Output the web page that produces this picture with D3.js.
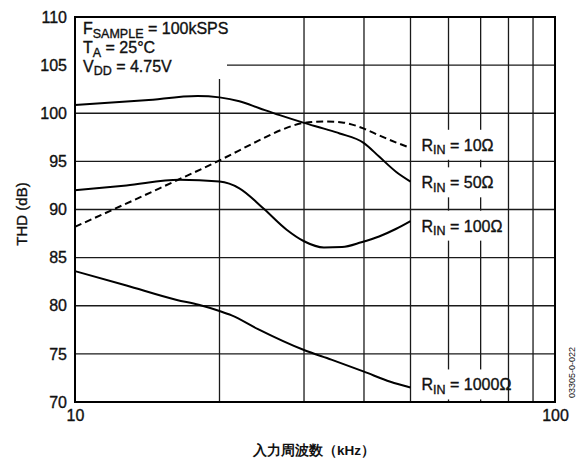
<!DOCTYPE html>
<html>
<head>
<meta charset="utf-8">
<script src="https://cdn.jsdelivr.net/npm/d3@7"></script>
<style>
  html, body { margin: 0; padding: 0; background: #fff; }
  svg { display: block; }
  text { font-family: "Liberation Sans", Arial, Helvetica, sans-serif; fill: #111; }
  .heavy { stroke: #111; stroke-width: 0.35px; }
</style>
</head>
<body>
<svg id="chart" width="578" height="458"></svg>
<script>
// Input frequency (kHz) and THD (dB) for each source resistance
const freqR10   = [10, 15, 20, 24, 27, 30, 33, 36, 40, 43, 47, 50];
const thdR10    = [88.2, 92.2, 95.1, 97.1, 98.3, 99.0, 99.15, 99.05, 98.4, 97.7, 96.9, 96.4];

const freqR50   = [10, 14, 18, 20, 22, 24.3, 26.7, 30, 33, 35.6, 40, 43, 46.7, 50];
const thdR50    = [100.85, 101.35, 101.8, 101.65, 101.25, 100.5, 99.8, 99.0, 98.4, 97.9, 96.9, 95.5, 93.9, 92.9];

const freqR100  = [10, 12.8, 16.5, 20, 22, 24.7, 27.6, 30, 33, 36, 39.5, 43, 46.7, 50];
const thdR100   = [92.0, 92.5, 93.1, 92.9, 92.2, 90.1, 87.9, 86.7, 86.05, 86.1, 86.6, 87.2, 88.0, 88.8];

const freqR1000 = [10, 12.8, 16.3, 18.1, 20, 21.2, 24, 30, 34.2, 40, 45.4, 50];
const thdR1000  = [83.6, 82.1, 80.6, 80.1, 79.45, 79.0, 77.6, 75.4, 74.4, 73.15, 72.1, 71.5];

// Curve labels: resistance text and the THD level of each label's baseline
const seriesNames  = ["10Ω", "50Ω", "100Ω", "1000Ω"];
const labelLevels  = [96.1, 92.2, 87.7, 71.2];

// Axis ticks
const yTicks = [70, 75, 80, 85, 90, 95, 100, 105, 110];
const xTickLabels = [10, 100];
const xGrid = [20, 30, 40, 50, 60, 70, 80, 90];

const svg = d3.select("#chart");
const plotL = 75, plotR = 555, plotT = 17, plotB = 402;
const mainSize = 16, subSize = 12.5, subShift = 3.5;

const x = d3.scaleLog().domain([10, 100]).range([plotL, plotR]);
const y = d3.scaleLinear().domain([70, 110]).range([plotB, plotT]);

// vertical grid
svg.append("g").attr("stroke", "#1a1a1a").attr("stroke-width", 1.3)
  .selectAll("line").data(xGrid).join("line")
  .attr("x1", d => x(d)).attr("x2", d => x(d))
  .attr("y1", plotT).attr("y2", plotB);

// white backing behind the curve labels (interrupts vertical grid)
svg.append("g").selectAll("rect").data(labelLevels).join("rect")
  .attr("x", 414).attr("width", 92)
  .attr("y", d => y(d) - 21).attr("height", 30)
  .attr("fill", "#fff");

// horizontal grid
svg.append("g").attr("stroke", "#1a1a1a").attr("stroke-width", 1.3)
  .selectAll("line").data(yTicks.filter(d => d > 70 && d < 110)).join("line")
  .attr("x1", plotL).attr("x2", plotR)
  .attr("y1", d => y(d)).attr("y2", d => y(d));

// conditions box
svg.append("rect").attr("x", plotL).attr("y", plotT).attr("width", 152).attr("height", 62).attr("fill", "#fff");

function subText(g, xPos, yPos, main, sub, rest) {
  const t = g.append("text").attr("class", "heavy").attr("x", xPos).attr("y", yPos);
  t.append("tspan").text(main);
  t.append("tspan").attr("font-size", subSize).attr("dy", subShift).text(sub);
  t.append("tspan").attr("dy", -subShift).text(rest);
  return t;
}
const cond = svg.append("g").attr("font-size", mainSize);
subText(cond, 83, 34, "F", "SAMPLE", " = 100kSPS");
subText(cond, 83, 53, "T", "A", " = 25°C");
subText(cond, 83, 71.5, "V", "DD", " = 4.75V");

// curves
const line = d3.line()
  .x(d => x(d[0])).y(d => y(d[1]))
  .curve(d3.curveMonotoneX);

const series = [
  { f: freqR10, v: thdR10, dash: "7,4" },
  { f: freqR50, v: thdR50, dash: null },
  { f: freqR100, v: thdR100, dash: null },
  { f: freqR1000, v: thdR1000, dash: null }
];

svg.append("g").selectAll("path").data(series).join("path")
  .attr("d", s => line(s.f.map((f, i) => [f, s.v[i]])))
  .attr("fill", "none")
  .attr("stroke", "#000")
  .attr("stroke-width", 2)
  .attr("stroke-dasharray", s => s.dash);

// curve labels
const labels = svg.append("g").attr("font-size", mainSize);
seriesNames.forEach((name, i) => {
  subText(labels, 421.5, y(labelLevels[i]), "R", "IN", " = " + name);
});

// plot frame
svg.append("rect")
  .attr("x", plotL).attr("y", plotT)
  .attr("width", plotR - plotL).attr("height", plotB - plotT)
  .attr("fill", "none").attr("stroke", "#000").attr("stroke-width", 2);

// axes (labels only)
const yAxis = d3.axisLeft(y).tickValues(yTicks).tickSize(0).tickPadding(8);
const gy = svg.append("g").attr("transform", `translate(${plotL},0)`).call(yAxis);
const xAxis = d3.axisBottom(x).tickValues(xTickLabels).tickFormat(d3.format("d")).tickSize(0).tickPadding(8);
const gx = svg.append("g").attr("transform", `translate(0,${plotB})`).call(xAxis);
[gy, gx].forEach(g => {
  g.select(".domain").remove();
  g.selectAll("text").attr("font-size", mainSize).attr("class", "heavy")
    .attr("font-family", "'Liberation Sans', Arial, sans-serif").attr("fill", "#111");
});

// axis titles
svg.append("text")
  .attr("class", "heavy")
  .attr("transform", `translate(27,214) rotate(-90)`)
  .attr("text-anchor", "middle").attr("font-size", 15)
  .text("THD (dB)");

svg.append("text")
  .attr("x", (plotL + plotR) / 2 - 1).attr("y", 455)
  .attr("text-anchor", "middle").attr("font-size", 13.5).attr("font-weight", "bold")
  .attr("font-family", "'Noto Sans CJK JP', sans-serif")
  .text("入力周波数（kHz）");

// figure id
svg.append("text")
  .attr("transform", "translate(575,398) rotate(-90)")
  .attr("font-size", 9).attr("fill", "#333")
  .text("03305-0-022");
</script>
</body>
</html>
